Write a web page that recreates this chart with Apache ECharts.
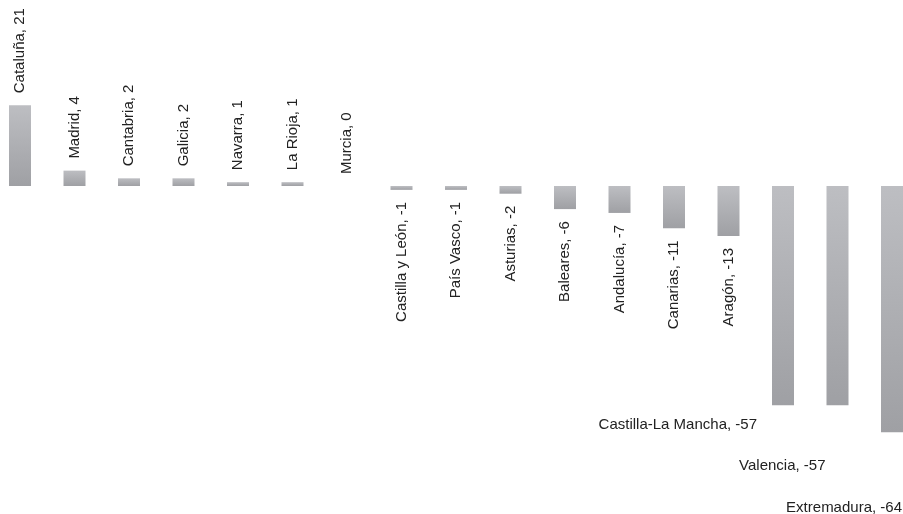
<!DOCTYPE html>
<html>
<head>
<meta charset="utf-8">
<script src="https://cdn.jsdelivr.net/npm/echarts@6/dist/echarts.min.js"></script>
<style>
html,body{margin:0;padding:0;background:#fff;}
#chart{width:903px;height:514px;}
</style>
</head>
<body>
<div id="chart"></div>
<script>
var categories = ['Cataluña','Madrid','Cantabria','Galicia','Navarra','La Rioja','Murcia','Castilla y León','País Vasco','Asturias','Baleares','Andalucía','Canarias','Aragón','Castilla-La Mancha','Valencia','Extremadura'];
var values = [21, 4, 2, 2, 1, 1, 0, -1, -1, -2, -6, -7, -11, -13, -57, -57, -64];

var fontBase = {fontFamily: 'Liberation Sans, Arial, sans-serif', fontSize: 15, color: '#222'};

function labelFor(i, v) {
  var text = categories[i] + ', ' + v;
  if (i === 14) return Object.assign({show: true, formatter: text, position: 'bottom', rotate: 0, align: 'right', verticalAlign: 'top', distance: 12}, fontBase);
  if (i === 15) return Object.assign({show: true, formatter: text, position: 'bottom', rotate: 0, align: 'right', verticalAlign: 'top', distance: 53}, fontBase);
  if (i === 16) return Object.assign({show: true, formatter: text, position: 'bottom', rotate: 0, align: 'right', verticalAlign: 'top', distance: 68}, fontBase);
  if (v >= 0) return Object.assign({show: true, formatter: text, position: 'top', rotate: 90, align: 'left', verticalAlign: 'middle', distance: 12}, fontBase);
  return Object.assign({show: true, formatter: text, position: 'bottom', rotate: 90, align: 'right', verticalAlign: 'middle', distance: 12}, fontBase);
}

var seriesData = values.map(function (v, i) {
  return {value: v, label: labelFor(i, v)};
});

var labelShift = {14: -26, 15: -12, 16: 10};

var chart = echarts.init(document.getElementById('chart'), null, {renderer: 'canvas'});
chart.setOption({
  animation: false,
  grid: {left: 20, right: 11, top: 70.6, bottom: 58.7, containLabel: false},
  xAxis: {type: 'category', data: categories, show: false, boundaryGap: false},
  yAxis: {type: 'value', min: -70, max: 30, show: false, splitLine: {show: false}},
  series: [{
    type: 'bar',
    data: seriesData,
    barWidth: 22,
    itemStyle: {
      color: new echarts.graphic.LinearGradient(0, 0, 0, 1, [
        {offset: 0, color: '#bdbec2'},
        {offset: 1, color: '#9fa0a4'}
      ])
    },
    labelLayout: function (params) {
      var s = labelShift[params.dataIndex];
      if (s !== undefined) return {dx: s, hideOverlap: false};
      return {hideOverlap: false};
    }
  }]
});
</script>
</body>
</html>
